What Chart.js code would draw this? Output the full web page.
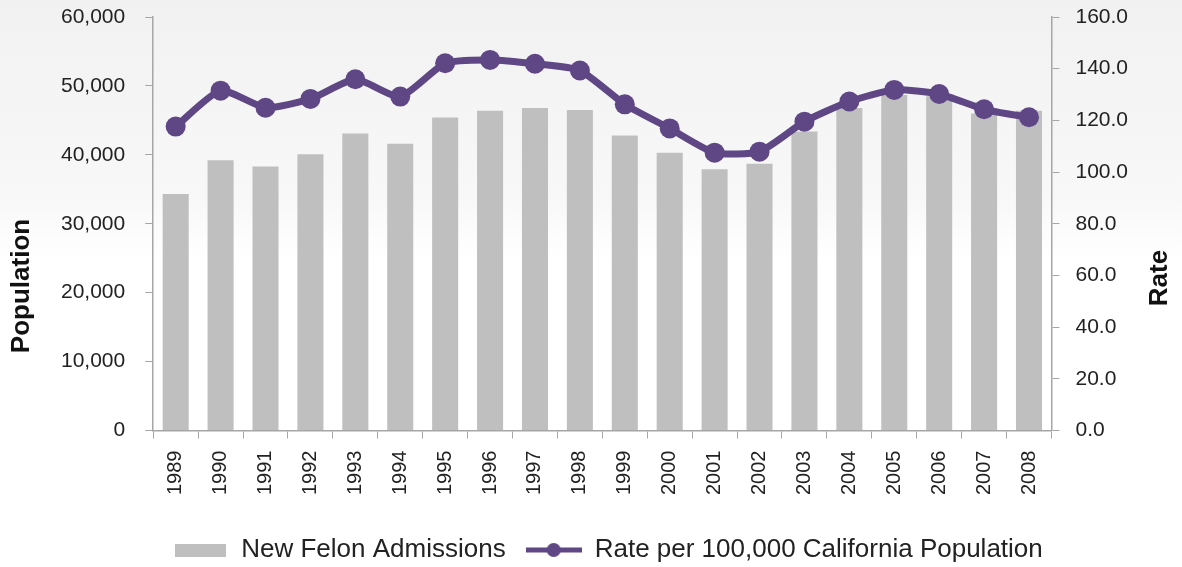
<!DOCTYPE html>
<html>
<head>
<meta charset="utf-8">
<script src="https://cdn.jsdelivr.net/npm/chart.js@4.4.0/dist/chart.umd.min.js"></script>
<style>
  html, body { margin: 0; padding: 0; }
  body { width: 1182px; height: 567px; background: linear-gradient(to bottom, #f1f1f1 0px, #f8f8f8 200px, #ffffff 260px); }
  #wrap { position: relative; width: 1182px; height: 567px; }
</style>
</head>
<body>
<div id="wrap"><canvas id="felonCanvas"></canvas></div>
<script>
const years = ["1989", "1990", "1991", "1992", "1993", "1994", "1995", "1996", "1997", "1998",
               "1999", "2000", "2001", "2002", "2003", "2004", "2005", "2006", "2007", "2008"];
const admissions = [34300, 39200, 38300, 40100, 43100, 41600, 45400, 46400, 46800, 46500,
                    42800, 40300, 37900, 38700, 43400, 46800, 48700, 48500, 46000, 46400];
const ratePer100k = [117.6, 131.5, 124.9, 128.3, 135.9, 129.2, 142.1, 143.4, 141.9, 139.3,
                     126.2, 116.9, 107.5, 107.9, 119.5, 127.3, 131.8, 130.2, 124.3, 121.2];

const fontFamily = "'Liberation Sans', Arial, sans-serif";
const barColor = "#bfbfbf";
const lineColor = "#5f4685";
const axisColor = "#a6a6a6";

// legend markers drawn as little canvases
function makeBarMarker() {
    const c = document.createElement("canvas");
    c.width = 51; c.height = 13;
    const g = c.getContext("2d");
    g.fillStyle = barColor;
    g.fillRect(0, 0, 51, 13);
    return c;
}
function makeLineMarker() {
    const c = document.createElement("canvas");
    c.width = 56; c.height = 16;
    const g = c.getContext("2d");
    g.strokeStyle = lineColor;
    g.lineWidth = 5;
    g.beginPath(); g.moveTo(0, 8); g.lineTo(56, 8); g.stroke();
    g.fillStyle = lineColor;
    g.beginPath(); g.arc(28, 8, 7, 0, Math.PI * 2); g.fill();
    return c;
}
const legendMarkers = [makeLineMarker(), makeBarMarker()];

// axis titles drawn by hand, both reading upwards; legend nudged right a little
const axisTitles = {
    id: "axisTitles",
    afterLayout(chart) {
        chart.legend.left += 15;
        chart.legend.right += 15;
    },
    afterDraw(chart) {
        const ctx = chart.ctx;
        ctx.save();
        ctx.fillStyle = "#111";
        ctx.font = "bold 26px " + fontFamily;
        ctx.textAlign = "center";
        ctx.textBaseline = "middle";
        ctx.translate(22, 286);
        ctx.rotate(-Math.PI / 2);
        ctx.fillText("Population", 0, 0);
        ctx.restore();
        ctx.save();
        ctx.fillStyle = "#111";
        ctx.font = "bold 26px " + fontFamily;
        ctx.textAlign = "center";
        ctx.textBaseline = "middle";
        ctx.translate(1160, 278);
        ctx.rotate(-Math.PI / 2);
        ctx.fillText("Rate", 0, 0);
        ctx.restore();
    }
};

// drop the extra padding scales ask for around their end labels
const noEndPadding = scale => {
    scale.paddingTop = 0;
    scale.paddingLeft = 0;
    scale.paddingRight = 0;
};

const felonChart = new Chart(document.getElementById("felonCanvas"), {
    data: {
        labels: years,
        datasets: [{
            type: "line",
            label: "Rate per 100,000 California Population",
            data: ratePer100k,
            yAxisID: "yRate",
            borderColor: lineColor,
            backgroundColor: lineColor,
            borderWidth: 7,
            pointRadius: 10,
            pointHoverRadius: 10,
            pointBackgroundColor: lineColor,
            pointBorderWidth: 0,
            tension: 0.2
        }, {
            type: "bar",
            label: "New Felon Admissions",
            data: admissions,
            yAxisID: "yPop",
            backgroundColor: barColor,
            barPercentage: 0.58,
            categoryPercentage: 1
        }]
    },
    options: {
        responsive: true,
        maintainAspectRatio: false,
        animation: false,
        layout: {
            autoPadding: false,
            padding: { left: 41, right: 38, top: 17, bottom: -6 }
        },
        scales: {
            x: {
                offset: true,
                afterFit: noEndPadding,
                grid: { drawOnChartArea: false, offset: true, tickLength: 8, color: axisColor },
                border: { color: axisColor, width: 1.5 },
                ticks: {
                    minRotation: 90, maxRotation: 90, padding: 12,
                    color: "#222",
                    font: { family: fontFamily, size: 20 }
                }
            },
            yPop: {
                position: "left",
                min: 0, max: 60000,
                afterFit: noEndPadding,
                grid: { drawOnChartArea: false, tickLength: 8, color: axisColor },
                border: { color: axisColor, width: 1.5 },
                ticks: {
                    stepSize: 10000, padding: 20,
                    color: "#222",
                    font: { family: fontFamily, size: 21 },
                    callback: v => v.toLocaleString("en-US")
                }
            },
            yRate: {
                position: "right",
                min: 0, max: 160,
                afterFit: noEndPadding,
                grid: { drawOnChartArea: false, tickLength: 8, color: axisColor },
                border: { color: axisColor, width: 1.5 },
                ticks: {
                    stepSize: 20, padding: 16,
                    color: "#222",
                    font: { family: fontFamily, size: 21 },
                    callback: v => v.toFixed(1)
                }
            }
        },
        plugins: {
            legend: {
                position: "bottom",
                title: { display: true, text: "", padding: { top: 10, bottom: 0 }, font: { size: 0 } },
                labels: {
                    usePointStyle: true,
                    pointStyleWidth: 56,
                    padding: 20,
                    color: "#222",
                    font: { family: fontFamily, size: 26 },
                    generateLabels: chart => {
                        const items = Chart.defaults.plugins.legend.labels.generateLabels(chart);
                        items.forEach(it => { it.pointStyle = legendMarkers[it.datasetIndex]; });
                        return items.reverse();
                    }
                }
            },
            tooltip: { enabled: false }
        }
    },
    plugins: [axisTitles]
});
</script>
</body>
</html>
